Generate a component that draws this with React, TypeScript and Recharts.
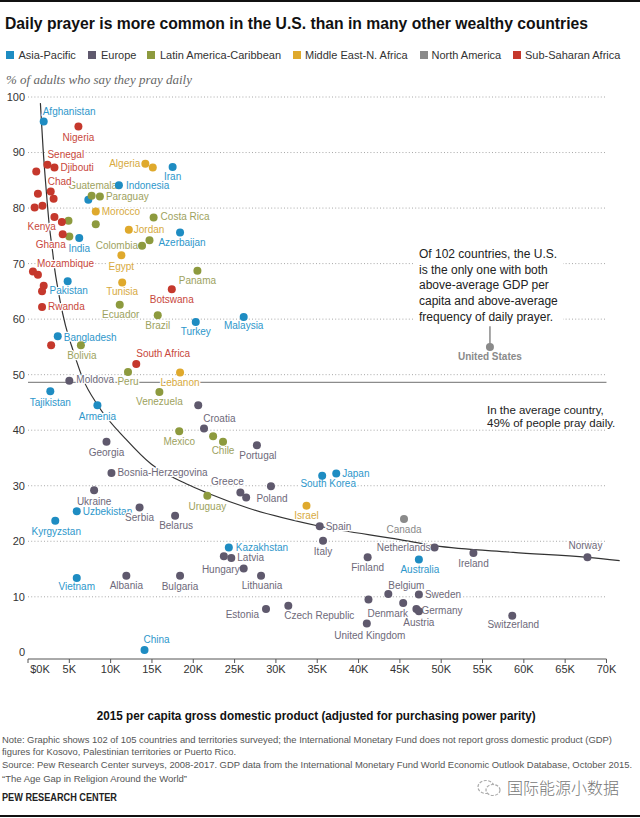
import React from "react"
import { ComposedChart, Scatter, Line, XAxis, YAxis, ReferenceLine } from "recharts"

// ─── Data (GDP in $K, % praying daily) ────────────────────────────────────────
const asiaNames = ["Afghanistan", "Indonesia", "Iran", "", "Azerbaijan", "India", "Pakistan", "Turkey", "Malaysia", "Bangladesh", "Tajikistan", "Armenia", "Uzbekistan", "Kyrgyzstan", "Vietnam", "China", "South Korea", "Japan", "Kazakhstan", "Australia"]
const asiaGdp = [1.9, 11.0, 17.5, 7.3, 18.4, 6.2, 4.8, 20.3, 26.1, 3.6, 2.7, 8.4, 5.9, 3.3, 5.9, 14.1, 35.6, 37.3, 24.3, 47.3]
const asiaPray = [95.6, 84.1, 87.4, 81.5, 75.6, 74.6, 66.8, 59.5, 60.4, 56.9, 47.0, 44.5, 25.4, 23.7, 13.4, 0.4, 31.8, 32.2, 18.9, 16.7]

const europeNames = ["Moldova", "Croatia", "", "Georgia", "Portugal", "Bosnia-Herzegovina", "Ukraine", "Serbia", "Belarus", "Greece", "", "Poland", "Spain", "Italy", "", "Latvia", "Hungary", "Lithuania", "Albania", "Bulgaria", "Finland", "Estonia", "Czech Republic", "Denmark", "Belgium", "Sweden", "", "Germany", "Austria", "United Kingdom", "Netherlands", "Ireland", "Norway", "Switzerland"]
const europeGdp = [5.0, 20.6, 21.3, 9.5, 27.7, 10.1, 8.0, 13.5, 17.8, 25.7, 26.4, 29.4, 35.3, 35.7, 23.7, 24.6, 26.1, 28.2, 11.9, 18.4, 41.1, 28.8, 31.5, 41.2, 43.6, 47.3, 45.4, 47.0, 47.3, 41.0, 49.2, 53.9, 67.7, 58.6]
const europePray = [48.9, 44.5, 40.3, 37.9, 37.3, 32.3, 29.2, 26.1, 24.6, 28.8, 27.9, 29.9, 22.7, 20.1, 17.3, 17.0, 15.1, 13.8, 13.8, 13.8, 17.1, 7.8, 8.4, 9.5, 10.5, 10.4, 8.9, 7.8, 7.4, 5.2, 18.9, 17.9, 17.1, 6.6]

const latamNames = ["Guatemala", "Paraguay", "Costa Rica", "", "", "", "Colombia", "", "Panama", "Ecuador", "Brazil", "Bolivia", "Peru", "Venezuela", "Mexico", "", "Chile", "Uruguay"]
const latamGdp = [7.7, 8.7, 15.2, 4.9, 8.2, 5.0, 13.8, 14.7, 20.5, 11.1, 15.7, 6.4, 12.1, 15.9, 18.3, 22.4, 23.6, 21.7]
const latamPray = [82.2, 82.1, 78.3, 77.7, 77.1, 74.9, 73.2, 74.2, 68.7, 62.6, 60.7, 55.3, 50.5, 46.9, 39.8, 38.9, 37.9, 28.2]

const menaNames = ["Algeria", "", "Morocco", "Jordan", "Egypt", "Tunisia", "Lebanon", "Israel"]
const menaGdp = [14.2, 15.1, 8.2, 12.2, 11.3, 11.4, 18.4, 33.7]
const menaPray = [88.0, 87.3, 79.4, 76.1, 71.5, 66.6, 50.4, 26.4]

const northAmNames = ["Canada", "United States"]
const northAmGdp = [45.5, 55.9]
const northAmPray = [24.0, 55.0]

const ssaNames = ["Nigeria", "Senegal", "Djibouti", "", "Chad", "", "", "", "", "", "Kenya", "Ghana", "", "Mozambique", "", "", "Rwanda", "Botswana", "", "South Africa"]
const ssaGdp = [6.1, 2.35, 3.2, 1.0, 2.75, 3.1, 1.2, 0.8, 1.75, 3.2, 4.1, 4.2, 0.6, 1.2, 1.9, 1.7, 1.7, 17.4, 2.8, 13.1]
const ssaPray = [94.7, 87.8, 87.3, 86.6, 83.0, 81.7, 82.6, 80.1, 80.4, 78.4, 77.5, 75.3, 68.6, 68.0, 66.0, 65.0, 62.2, 65.4, 55.3, 51.9]

// fitted curve as drawn in the original
const trendGdp = [1.5, 1.82, 2.2, 2.54, 2.99, 3.23, 3.6, 4.84, 5.25, 6.66, 8.44, 11.9, 14.9, 19.2, 21.7, 26.8, 35.3, 45.0, 49.2, 58.7, 67.7, 71.6]
const trendPray = [98.9, 90.8, 83.3, 77.4, 72.0, 69.0, 65.6, 57.2, 55.3, 49.2, 44.5, 38.3, 33.9, 30.3, 28.7, 25.9, 22.7, 20.3, 19.2, 18.0, 17.1, 16.5]

const averagePray = 48.6
const xTicks = [0, 5, 10, 15, 20, 25, 30, 35, 40, 45, 50, 55, 60, 65, 70]
const yTicks = [0, 10, 20, 30, 40, 50, 60, 70, 80, 90, 100]
const gridValues = [10, 20, 30, 40, 50, 60, 70, 80, 90, 100]

// ─── Styling ──────────────────────────────────────────────────────────────────
const SANS = "'Liberation Sans', Arial, sans-serif"

const regions = [
  { key: "Asia-Pacific", dot: "#1e8cc2", text: "#2e97cb", names: asiaNames, gdp: asiaGdp, pray: asiaPray, lx: 5.5, tx: 18.4 },
  { key: "Europe", dot: "#5f596d", text: "#6e6979", names: europeNames, gdp: europeGdp, pray: europePray, lx: 88, tx: 101 },
  { key: "Latin America-Caribbean", dot: "#8d9a3e", text: "#9da25e", names: latamNames, gdp: latamGdp, pray: latamPray, lx: 146.5, tx: 160 },
  { key: "Middle East-N. Africa", dot: "#dfa92c", text: "#d7aa40", names: menaNames, gdp: menaGdp, pray: menaPray, lx: 292.5, tx: 305 },
  { key: "North America", dot: "#8a8a8a", text: "#8a8a8a", names: northAmNames, gdp: northAmGdp, pray: northAmPray, lx: 419.5, tx: 431.5 },
  { key: "Sub-Saharan Africa", dot: "#c5382c", text: "#c8473c", names: ssaNames, gdp: ssaGdp, pray: ssaPray, lx: 512.5, tx: 525 },
]

// label offset from dot: [dx, dy, anchor]
const LABEL_POS: Record<string, [number, number, string]> = {
  Afghanistan: [-1, -10, "start"], Indonesia: [7, 0, "start"], Iran: [0, 10, "middle"], Azerbaijan: [2, 10, "middle"],
  India: [0, 10, "middle"], Pakistan: [1, 9, "middle"], Turkey: [0, 10, "middle"], Malaysia: [0, 9, "middle"],
  Bangladesh: [6, 1, "start"], Tajikistan: [0, 11, "middle"], Armenia: [0, 11, "middle"], Uzbekistan: [6, 0, "start"],
  Kyrgyzstan: [1, 11, "middle"], Vietnam: [0, 9, "middle"], China: [-1, -11, "start"], "South Korea": [6, 8, "middle"],
  Japan: [6, 0, "start"], Kazakhstan: [7, 0, "start"], Australia: [1, 10, "middle"],
  Moldova: [7, -1, "start"], Croatia: [5, 13, "start"], Georgia: [0, 11, "middle"], Portugal: [1, 10, "middle"],
  "Bosnia-Herzegovina": [6, 0, "start"], Ukraine: [0, 11, "middle"], Serbia: [0, 10, "middle"], Belarus: [1, 10, "middle"],
  Greece: [-13, -11, "middle"], Poland: [1, 12, "middle"], Spain: [6, 0, "start"], Italy: [0, 11, "middle"],
  Latvia: [6, 0, "start"], Hungary: [-4, 1, "end"], Lithuania: [1, 10, "middle"], Albania: [0, 10, "middle"],
  Bulgaria: [0, 11, "middle"], Finland: [0, 10, "middle"], Estonia: [-7, 5, "end"], "Czech Republic": [-4, 10, "start"],
  Denmark: [-1, 14, "start"], Belgium: [0, -9, "start"], Sweden: [6, 0, "start"], Germany: [5, 1, "start"],
  Austria: [0, 11, "middle"], "United Kingdom": [3, 12, "middle"], Netherlands: [-4, 0, "end"], Ireland: [0, 11, "middle"],
  Norway: [-2, -12, "middle"], Switzerland: [1, 9, "middle"], Canada: [0, 10, "middle"], "United States": [0, 10, "middle"],
  Guatemala: [1, -10, "middle"], Paraguay: [6, 0, "start"], "Costa Rica": [7, -1, "start"], Colombia: [-4, 0, "end"],
  Panama: [0, 10, "middle"], Ecuador: [1, 10, "middle"], Brazil: [0, 10, "middle"], Bolivia: [1, 10, "middle"],
  Peru: [0, 10, "middle"], Venezuela: [0, 10, "middle"], Mexico: [0, 10, "middle"], Chile: [0, 9, "middle"],
  Uruguay: [0, 11, "middle"],
  Algeria: [-5, 0, "end"], Morocco: [6, 0, "start"], Jordan: [5, 0, "start"], Egypt: [0, 11, "middle"],
  Tunisia: [0, 9, "middle"], Lebanon: [0, 10, "middle"], Israel: [0, 10, "middle"],
  Nigeria: [0, 11, "middle"], Senegal: [0, -10, "start"], Djibouti: [6, 0, "start"], Chad: [-3, -10, "start"],
  Kenya: [-6, 5, "end"], Ghana: [-12, 10, "middle"], Mozambique: [-1, -11, "start"], Rwanda: [6, 0, "start"],
  Botswana: [0, 10, "middle"], "South Africa": [0, -11, "start"],
}

const regionData = regions.map((r) => ({
  ...r,
  points: r.names.map((name, i) => ({ name, x: r.gdp[i], y: r.pray[i], color: r.text })),
}))
const allPoints = regionData.flatMap((r) => r.points)
const trendData = trendGdp.map((x, i) => ({ x, y: trendPray[i] }))

function Dot(color: string) {
  return (props: any) => <circle cx={props.cx} cy={props.cy} r={4} fill={color} />
}

function PointLabel(props: any) {
  const p = props.payload
  const pos = LABEL_POS[p?.name]
  if (!p?.name || !pos) return <g />
  const bold = p.name === "United States"
  return (
    <text
      x={props.cx + pos[0]}
      y={props.cy + pos[1]}
      textAnchor={pos[2] as any}
      dominantBaseline="central"
      fontSize={10}
      fontFamily={SANS}
      fontWeight={bold ? 700 : 400}
      fill={p.color}
      stroke="#fff"
      strokeWidth={2.5}
      strokeLinejoin="round"
      paintOrder="stroke"
    >
      {p.name}
    </text>
  )
}

function XTick(props: any) {
  const v = props.payload.value
  return (
    <text x={props.x + (v === 0 ? 12 : 0)} y={props.y} dy="0.71em" textAnchor="middle" fontSize={11} fontFamily={SANS} fill="#333">
      {v === 0 ? "$0K" : `${v}K`}
    </text>
  )
}

// condensed texts are fitted to the width they take in the original
const notes = [
  { text: "Note: Graphic shows 102 of 105 countries and territories surveyed; the International Monetary Fund does not report gross domestic product (GDP)", y: 742.5, w: 610 },
  { text: "figures for Kosovo, Palestinian territories or Puerto Rico.", y: 754.5, w: 234 },
  { text: "Source: Pew Research Center surveys, 2008-2017. GDP data from the International Monetary Fund World Economic Outlook Database, October 2015.", y: 767.5, w: 630 },
  { text: "\u201CThe Age Gap in Religion Around the World\u201D", y: 781.5, w: 185 },
]

export default function App() {
  return (
    <div style={{ position: "absolute", left: 0, top: 0, width: 640, height: 818, background: "#fff", overflow: "hidden", fontFamily: SANS }}>
      <div style={{ position: "absolute", left: 0, top: 0, width: 640, height: 2, background: "#111" }} />

      {/* Legend */}
      {regions.map((r) => (
        <React.Fragment key={r.key}>
          <div style={{ position: "absolute", left: r.lx, top: 51, width: 8, height: 8, background: r.dot }} />
          <div style={{ position: "absolute", left: r.tx, top: 48, fontSize: 11, lineHeight: "14px", color: "#333", whiteSpace: "nowrap" }}>{r.key}</div>
        </React.Fragment>
      ))}

      {/* Chart */}
      <div style={{ position: "absolute", left: 0, top: 0 }}>
        <ComposedChart width={640} height={705} margin={{ top: 97, right: 17, bottom: 23, left: 0 }}>
          <XAxis
            type="number"
            dataKey="x"
            domain={[0, 72]}
            ticks={xTicks}
            interval={0}
            axisLine={false}
            tickLine={{ stroke: "#555" }}
            tickSize={4}
            tickMargin={2}
            height={23}
            tick={<XTick />}
          />
          <YAxis
            type="number"
            dataKey="y"
            domain={[-1.2, 100]}
            ticks={yTicks}
            interval={0}
            axisLine={false}
            tickLine={false}
            tickSize={0}
            tickMargin={3}
            width={28}
            tick={{ fill: "#333", fontSize: 11, fontFamily: SANS }}
          />

          {gridValues.map((v) => (
            <ReferenceLine key={v} segment={[{ x: 0, y: v }, { x: 70, y: v }]} stroke="#a8a8a8" strokeDasharray="1 2.2" strokeWidth={1} />
          ))}
          <ReferenceLine segment={[{ x: 0, y: averagePray }, { x: 70, y: averagePray }]} stroke="#8c8c8c" strokeWidth={1.3} />
          <ReferenceLine segment={[{ x: 0, y: -1.2 }, { x: 70, y: -1.2 }]} stroke="#555" strokeWidth={1} />
          <ReferenceLine segment={[{ x: 55.9, y: 55 }, { x: 55.9, y: 58.7 }]} stroke="#8a8a8a" strokeWidth={1.5} />

          <Scatter data={allPoints} shape={PointLabel} isAnimationActive={false} />
          {regionData.map((r) => (
            <Scatter key={r.key} name={r.key} data={r.points} shape={Dot(r.dot)} isAnimationActive={false} />
          ))}

          <Line data={trendData} dataKey="y" type="monotone" stroke="#333" strokeWidth={1.2} dot={false} activeDot={false} isAnimationActive={false} />
        </ComposedChart>
      </div>

      {/* Annotations */}
      <div style={{ position: "absolute", left: 413, top: 247, width: 150, paddingLeft: 6, boxSizing: "border-box", background: "#fff", fontSize: 12, lineHeight: "15.7px", color: "#222" }}>
        Of 102 countries, the U.S. is the only one with both above-average GDP per capita and above-average frequency of daily prayer.
      </div>
      <div style={{ position: "absolute", left: 487, top: 404, fontSize: 11.5, lineHeight: "13px", color: "#222", whiteSpace: "nowrap" }}>
        In the average country,
        <br />
        49% of people pray daily.
      </div>

      {/* Title, subtitle, axis title and notes */}
      <svg style={{ position: "absolute", left: 0, top: 0, pointerEvents: "none" }} width={640} height={818}>
        <text x={5} y={28.8} fontFamily={SANS} fontWeight={700} fontSize={17} fill="#111" textLength={583} lengthAdjust="spacingAndGlyphs">
          Daily prayer is more common in the U.S. than in many other wealthy countries
        </text>
        <text x={6} y={83.5} fontFamily="'Liberation Serif', 'DejaVu Serif', serif" fontStyle="italic" fontSize={12.5} fill="#666" textLength={186} lengthAdjust="spacingAndGlyphs">
          % of adults who say they pray daily
        </text>
        <text x={96.7} y={719.8} fontFamily={SANS} fontWeight={700} fontSize={13.5} fill="#111" textLength={439} lengthAdjust="spacingAndGlyphs">
          2015 per capita gross domestic product (adjusted for purchasing power parity)
        </text>
        {notes.map((n) => (
          <text key={n.y} x={2} y={n.y} fontFamily={SANS} fontSize={9} fill="#555" textLength={n.w} lengthAdjust="spacingAndGlyphs">
            {n.text}
          </text>
        ))}
        <text x={2} y={800.7} fontFamily={SANS} fontWeight={700} fontSize={10.5} fill="#222" textLength={115} lengthAdjust="spacingAndGlyphs">
          PEW RESEARCH CENTER
        </text>

        {/* watermark */}
        <ellipse cx={486} cy={787} rx={8} ry={6.5} fill="none" stroke="#aaa" strokeWidth={1.2} strokeDasharray="3 1.5" />
        <ellipse cx={493} cy={790} rx={7} ry={5.5} fill="#fff" stroke="#aaa" strokeWidth={1.2} strokeDasharray="3 1.5" />
        <text x={507} y={794} fontFamily="'Noto Sans CJK SC', sans-serif" fontWeight={300} fontSize={16} fill="#777">
          国际能源小数据
        </text>
      </svg>

      <div style={{ position: "absolute", left: 0, top: 815, width: 640, height: 2, background: "#111" }} />
    </div>
  )
}
